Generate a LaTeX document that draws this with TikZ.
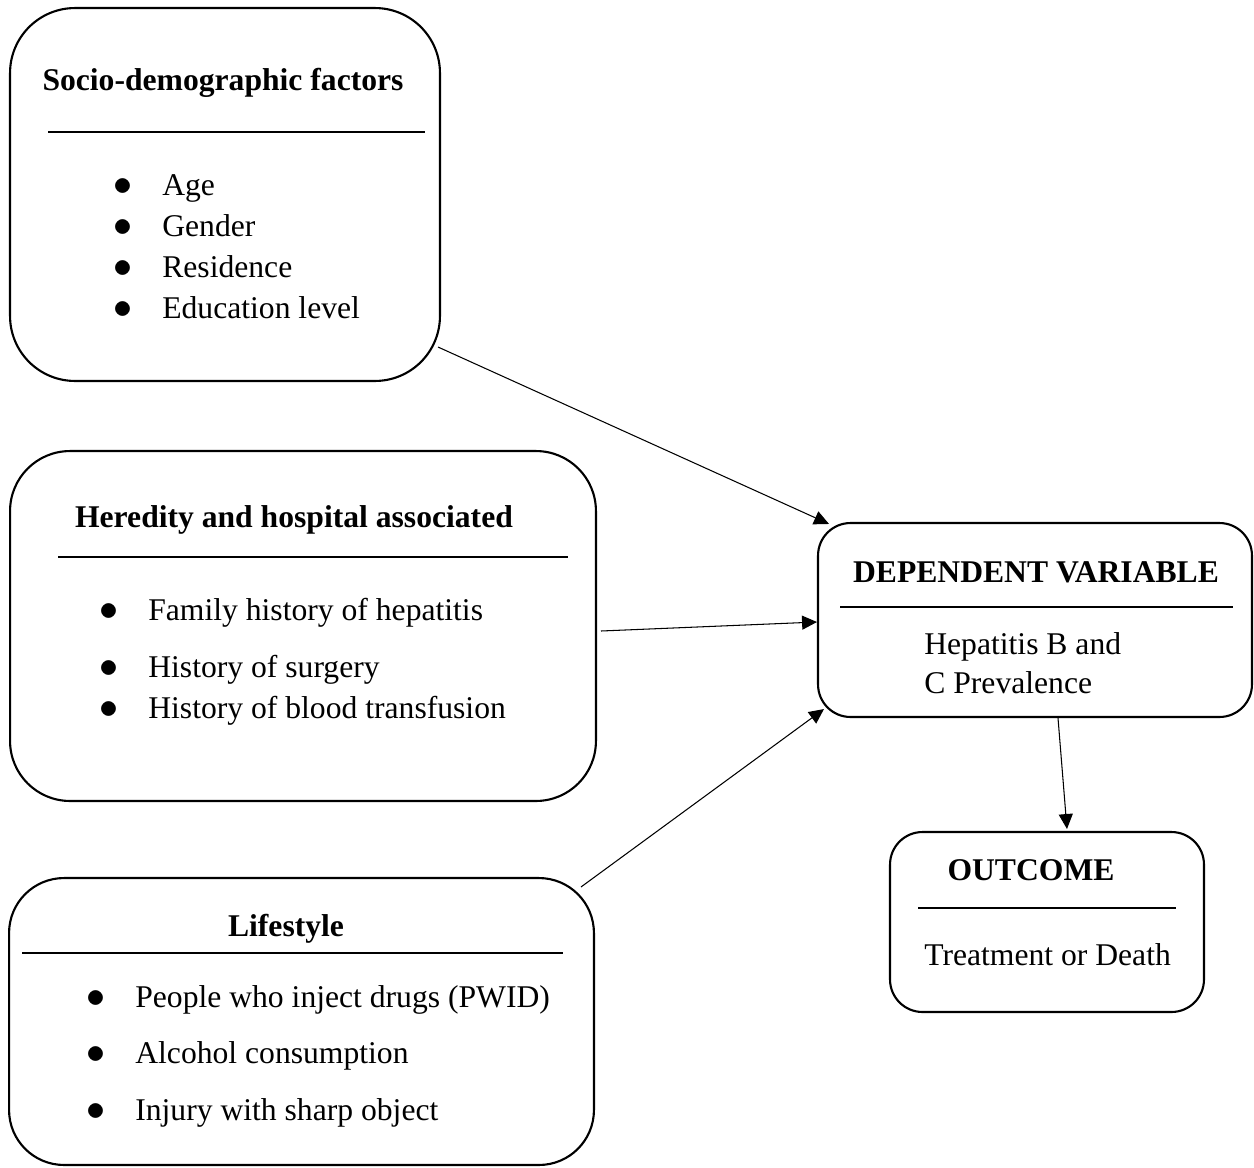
\documentclass[tikz,border=0pt]{standalone}
\usepackage{fontspec}
\setmainfont{Liberation Serif}
\usetikzlibrary{calc,arrows.meta}

\tikzset{
  factorbox/.style={draw,line width=1.2pt,inner sep=0pt},
  rule/.style={line width=0.6pt},
  title/.style={anchor=base,inner sep=0pt,font=\bfseries},
  entry/.style={anchor=base west,inner sep=0pt},
  link/.style={line width=0.6pt,-{Triangle[length=8.5pt,width=8pt]}}
}
\newcommand{\itm}{\llap{\scalebox{1.25}{$\bullet$}\hspace{17pt}}}

\begin{document}
\begin{tikzpicture}[x=0.02cm,y=-0.02cm]
    \fontsize{18}{23}\selectfont
    \useasboundingbox (0,0) rectangle (1254,1167);
    % The boxes
    \node[factorbox,rounded corners=1.3cm,minimum width=8.6cm,minimum height=7.46cm] (soc) at (225,194.5) {};
    \node[factorbox,rounded corners=1.2cm,minimum width=11.72cm,minimum height=7cm] (her) at (303,626) {};
    \node[factorbox,rounded corners=1.1cm,minimum width=11.7cm,minimum height=5.74cm] (life) at (301.5,1021.5) {};
    \node[factorbox,rounded corners=0.65cm,minimum width=8.68cm,minimum height=3.88cm] (dep) at (1035,620) {};
    \node[factorbox,rounded corners=0.65cm,minimum width=6.28cm,minimum height=3.6cm] (out) at (1047,922) {};

    % Socio-demographic factors
    \node[title] (soct) at (223,90) {Socio-demographic factors};
    \draw[rule] (48,132) -- (425,132);
    \foreach \t/\y [count=\i] in {Age/195,Gender/236,Residence/277,Education level/318}
      \node[entry] (soc\i) at (162,\y) {\itm\t};

    % Heredity and hospital associated
    \node[title] (hert) at (294,527) {Heredity and hospital associated};
    \draw[rule] (58,557) -- (568,557);
    \foreach \t/\y [count=\i] in {Family history of hepatitis/620,History of surgery/677,History of blood transfusion/718}
      \node[entry] (her\i) at (148,\y) {\itm\t};

    % Lifestyle
    \node[title] (lifet) at (286,936) {Lifestyle};
    \draw[rule] (22,953) -- (563,953);
    \foreach \t/\y [count=\i] in {People who inject drugs (PWID)/1007,Alcohol consumption/1063,Injury with sharp object/1120}
      \node[entry] (life\i) at (135,\y) {\itm\t};

    % Dependent variable and outcome
    \node[title] (dept) at (1036,582) {DEPENDENT VARIABLE};
    \draw[rule] (840,607) -- (1233,607);
    \node[entry] (dep1) at (924,654) {Hepatitis B and};
    \node[entry] (dep2) at (924,693) {C Prevalence};
    \node[title] (outt) at (1031,880) {OUTCOME};
    \draw[rule] (918,908) -- (1176,908);
    \node[entry] (out1) at (924,965) {Treatment or Death};

    % The arrows
    \draw[link] ($(soc.south east)+(-3,-35)$) -- ($(dep.north west)+(12,2)$);
    \draw[link] ($(her.east)+(4,5)$) -- ($(dep.west)+(0,2)$);
    \draw[link] ($(life.north east)+(-14,10)$) -- ($(dep.south west)+(7,-9)$);
    \draw[link] ($(dep.south)+(23,0)$) -- ($(out.north)+(20,-2)$);
\end{tikzpicture}
\end{document}
